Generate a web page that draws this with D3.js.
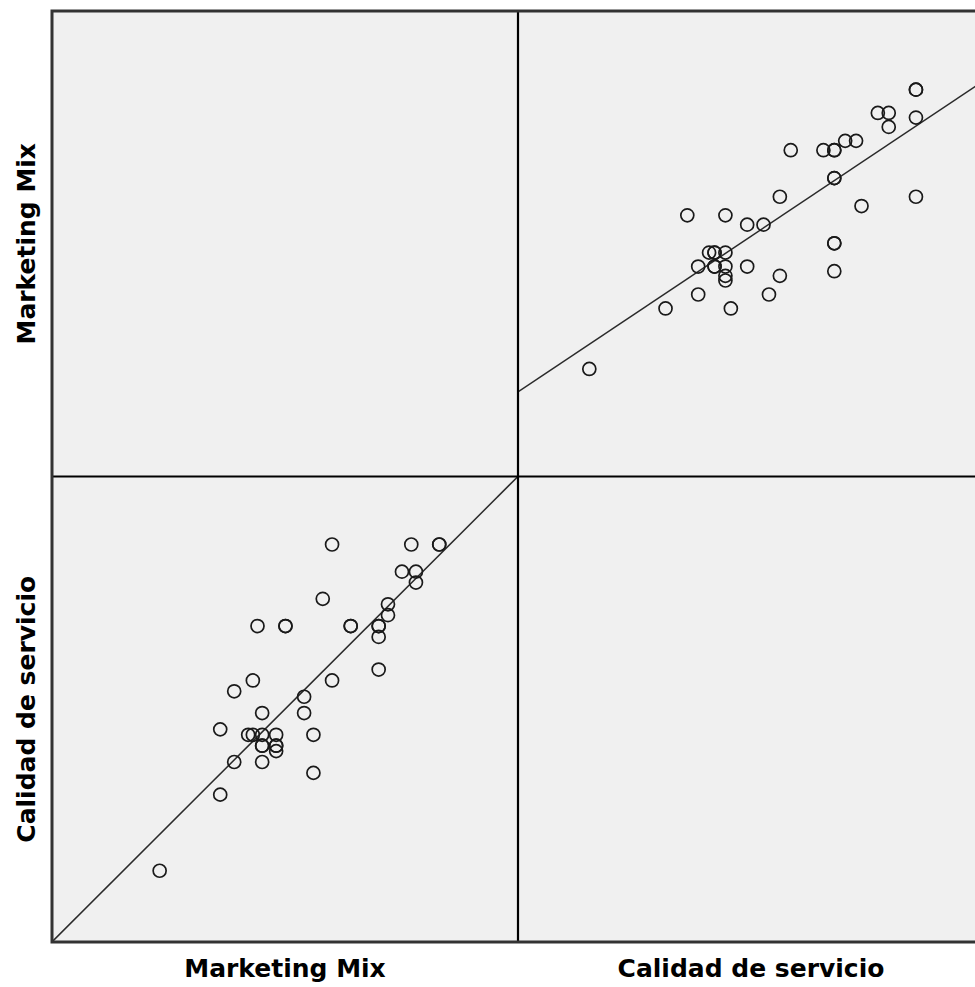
<!DOCTYPE html>
<html>
<head>
<meta charset="utf-8">
<script src="https://cdn.jsdelivr.net/npm/d3@7"></script>
<style>
  html, body { margin: 0; padding: 0; background: #ffffff; }
  svg { display: block; }
</style>
</head>
<body>
<svg id="chart" width="975" height="987"></svg>
<script>
// ---- data (in score units) ----
const variables = ["Marketing Mix", "Calidad de servicio"];
const marketingMix = [60,77,83,83,75,78,78,58,72,72,44,50,50,64,64,70,70,70,70,43,60,39,54,45,54,36,42,43,45,48,56,45,45,48,48,48,39,45,56,36,23];
const calidadServicio = [73,73,73,73,68,68,66,63,62,60,58,58,58,58,58,58,58,56,50,48,48,46,45,42,42,39,38,38,38,38,38,36,36,36,36,35,33,33,31,27,13];
const domainMM = [-0.1, 99.9];
const domainCal = [-0.1, 85.5];
// fit lines: [intercept, slope]
const fitCalOnMM = [0.0, 0.856];   // bottom-left: Calidad = a + b * Marketing Mix
const fitMMOnCal = [18.15, 0.781]; // top-right: Marketing Mix = a + b * Calidad

// ---- layout ----
const svg = d3.select("#chart");
const L = 52, T = 11, cellW = 466, cellH = 465.5;
const panelFill = "#f0f0f0";

const values = [marketingMix, calidadServicio];
const domains = [domainMM, domainCal];
const fits = { "1-0": fitCalOnMM, "0-1": fitMMOnCal };

const defs = svg.append("defs");

for (let row = 0; row < 2; row++) {
  for (let col = 0; col < 2; col++) {
    const x0 = L + col * cellW, y0 = T + row * cellH;
    const g = svg.append("g").attr("transform", `translate(${x0},${y0})`);
    g.append("rect").attr("width", cellW).attr("height", cellH).attr("fill", panelFill);
    if (row === col) continue;
    const xs = d3.scaleLinear().domain(domains[col]).range([0, cellW]);
    const ys = d3.scaleLinear().domain(domains[row]).range([cellH, 0]);
    const id = `clip-${row}-${col}`;
    defs.append("clipPath").attr("id", id).append("rect").attr("width", cellW).attr("height", cellH);
    const inner = g.append("g").attr("clip-path", `url(#${id})`);
    const pts = d3.range(marketingMix.length).map(i => ({ x: values[col][i], y: values[row][i] }));
    const fit = fits[`${row}-${col}`];
    const dx = domains[col];
    const line = d3.line().x(d => xs(d[0])).y(d => ys(d[1]));
    inner.append("path")
      .attr("d", line(dx.map(v => [v, fit[0] + fit[1] * v])))
      .attr("fill", "none").attr("stroke", "#2a2a2a").attr("stroke-width", 1.5);
    inner.selectAll("circle").data(pts).join("circle")
      .attr("cx", d => xs(d.x)).attr("cy", d => ys(d.y)).attr("r", 6.5)
      .attr("fill", "none").attr("stroke", "#1a1a1a").attr("stroke-width", 1.7);
  }
}

// dividers
svg.append("line").attr("x1", L + cellW).attr("x2", L + cellW).attr("y1", T).attr("y2", T + 2 * cellH)
  .attr("stroke", "#000").attr("stroke-width", 2.2);
svg.append("line").attr("x1", L).attr("x2", L + 2 * cellW).attr("y1", T + cellH).attr("y2", T + cellH)
  .attr("stroke", "#000").attr("stroke-width", 2.2);
// outer frame
svg.append("rect").attr("x", L).attr("y", T).attr("width", 2 * cellW).attr("height", 2 * cellH)
  .attr("fill", "none").attr("stroke", "#333").attr("stroke-width", 3);

// labels
const font = "'DejaVu Sans', sans-serif";
variables.forEach((name, i) => {
  svg.append("text")
    .attr("x", L + cellW * (i + 0.5)).attr("y", 976.5)
    .attr("text-anchor", "middle").attr("font-family", font).attr("font-weight", "bold")
    .attr("font-size", 25).attr("fill", "#000").text(name);
  const cy = T + cellH * (i + 0.5);
  svg.append("text")
    .attr("transform", `translate(35,${cy}) rotate(-90)`)
    .attr("text-anchor", "middle").attr("font-family", font).attr("font-weight", "bold")
    .attr("font-size", 25).attr("fill", "#000").text(name);
});
</script>
</body>
</html>
